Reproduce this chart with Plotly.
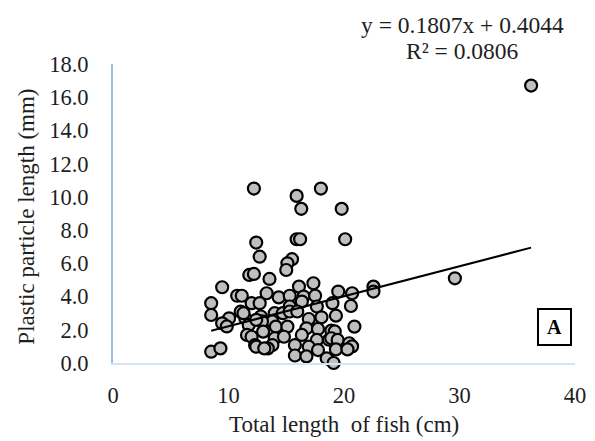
import plotly.graph_objects as go

# Fish total length (cm) and plastic particle length (mm)
fish_length = [
    36.2, 29.6, 12.2, 15.9, 16.3, 18.0, 19.8, 12.4, 12.7, 15.9, 16.2, 20.1,
    15.5, 15.1, 15.0, 11.8, 12.2, 13.55, 16.1, 17.35, 13.3, 14.35, 15.3, 16.5,
    17.5, 19.5, 20.7, 22.55, 22.55, 10.75, 11.15, 9.45, 12.0, 8.5, 12.7, 15.3,
    16.35, 17.65, 19.0, 20.6, 8.5, 10.05, 11.05, 11.45, 11.3, 12.8, 14.0, 14.7,
    15.3, 15.95, 16.95, 18.05, 19.3, 9.45, 9.85, 11.75, 13.8, 12.9, 14.1, 15.1,
    16.75, 17.75, 18.9, 19.2, 20.9, 13.0, 12.4, 11.6, 12.0, 14.0, 14.8, 16.35,
    17.65, 18.7, 18.9, 19.45, 12.3, 13.8, 15.75, 16.95, 20.45, 20.7, 12.4, 13.4,
    13.1, 17.75, 19.3, 20.3, 15.75, 16.75, 18.5, 19.1, 8.5, 9.3,
]
particle_length = [
    16.7, 5.1, 10.5, 10.06, 9.28, 10.5, 9.28, 7.25, 6.4, 7.45, 7.45, 7.45,
    6.25, 6.0, 5.6, 5.3, 5.36, 5.06, 4.6, 4.8, 4.2, 3.95, 4.05, 4.0,
    4.05, 4.3, 4.2, 4.6, 4.3, 4.05, 4.05, 4.56, 3.6, 3.6, 3.6, 3.4,
    3.7, 3.4, 3.6, 3.43, 2.89, 2.69, 3.09, 2.69, 3.0, 2.8, 3.0, 3.0,
    3.1, 3.1, 2.65, 2.75, 2.85, 2.39, 2.2, 2.29, 2.5, 2.5, 2.19, 2.19,
    2.09, 2.05, 1.95, 1.9, 2.19, 1.89, 2.6, 1.69, 1.58, 1.49, 1.58, 1.69,
    1.39, 1.4, 1.49, 1.39, 1.08, 1.08, 1.08, 0.98, 1.19, 1.0, 0.98, 0.88,
    0.88, 0.78, 0.82, 0.82, 0.45, 0.4, 0.28, 0.0, 0.68, 0.88,
]

slope = 0.1807
intercept = 0.4044
r_squared = 0.0806

x_ticks = [0, 10, 20, 30, 40]
y_ticks = [0, 2, 4, 6, 8, 10, 12, 14, 16, 18]

trend_x = [min(fish_length), max(fish_length)]
trend_y = [slope * v + intercept for v in trend_x]

SERIF = "Liberation Serif, Times New Roman, serif"
TXT = "#1e1e1e"

fig = go.Figure()
fig.add_trace(go.Scatter(
    x=fish_length, y=particle_length, mode="markers",
    marker=dict(size=12, color="#bfbfbf", line=dict(color="#000000", width=2.2)),
    showlegend=False, hoverinfo="skip", cliponaxis=False,
))
fig.add_trace(go.Scatter(
    x=trend_x, y=trend_y, mode="lines",
    line=dict(color="#000000", width=2),
    showlegend=False, hoverinfo="skip",
))

fig.update_layout(
    width=595, height=441,
    margin=dict(l=113, r=9, t=64, b=78),
    paper_bgcolor="white", plot_bgcolor="white",
    font=dict(family=SERIF, size=22, color=TXT),
    xaxis=dict(
        range=[0, 40], tickvals=x_ticks, ticktext=[str(v) for v in x_ticks],
        showgrid=False, zeroline=False, showline=True,
        linecolor="#d6e3f5", linewidth=2, ticks="", ticklabelstandoff=11,
        ticklabeloverflow="allow",
        tickfont=dict(family=SERIF, size=22.5, color=TXT),
    ),
    yaxis=dict(
        range=[0, 18], tickvals=y_ticks, ticktext=[f"{v:.1f}" for v in y_ticks],
        showgrid=False, zeroline=False, showline=True,
        linecolor="#9dbde9", linewidth=2, ticks="", ticklabelstandoff=18,
        tickfont=dict(family=SERIF, size=22.5, color=TXT),
    ),
    annotations=[
        dict(text="Total length  of fish (cm)", xref="paper", yref="paper",
             x=0.50, y=-0.207, xanchor="center", yanchor="middle", showarrow=False,
             font=dict(family=SERIF, size=23, color=TXT)),
        dict(text="Plastic particle length (mm)", xref="paper", yref="paper",
             x=-0.188, y=0.49, xanchor="center", yanchor="middle", textangle=-90,
             showarrow=False, font=dict(family=SERIF, size=23, color=TXT)),
        dict(text=f"y = {slope}x + {intercept}", xref="x", yref="paper",
             x=30.3, y=1.13, xanchor="center", yanchor="middle", showarrow=False,
             font=dict(family=SERIF, size=23.5, color=TXT)),
        dict(text=f"R² = {r_squared}", xref="x", yref="paper",
             x=30.3, y=1.045, xanchor="center", yanchor="middle", showarrow=False,
             font=dict(family=SERIF, size=23.5, color=TXT)),
        dict(text="<b>A</b>", xref="x", yref="y", x=38.2, y=2.17,
             xanchor="center", yanchor="middle", showarrow=False,
             width=29, height=32, bordercolor="#000000", borderwidth=2,
             borderpad=1, bgcolor="white",
             font=dict(family=SERIF, size=20, color="#000000")),
    ],
)

fig.write_html("out.html")
